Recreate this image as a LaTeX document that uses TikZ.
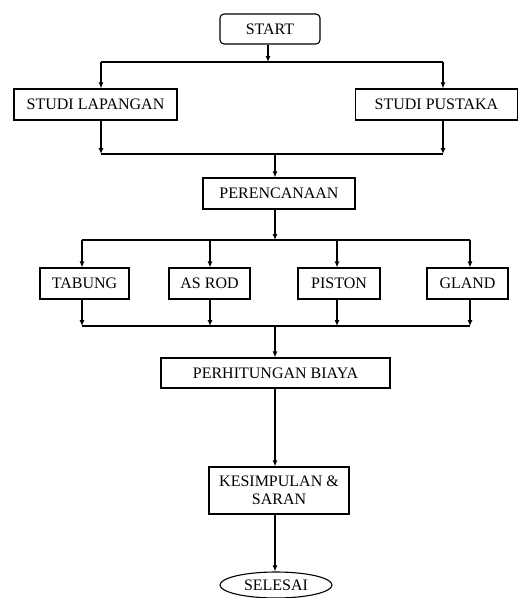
\documentclass[tikz,border=0pt]{standalone}
\usepackage{fontspec}
\setmainfont{Liberation Serif}
\usetikzlibrary{arrows.meta,shapes.geometric}
\begin{document}
\begin{tikzpicture}[x=1pt,y=-1pt,
  boxstyle/.style={draw, line width=1.1pt, inner sep=0pt, align=center,
    font=\fontsize{16}{18}\selectfont, minimum height=31pt},
  arr/.style={-{Latex[length=6pt,width=5pt]}, line width=1.1pt},
  ln/.style={line width=1.1pt}]
\useasboundingbox (0,0) rectangle (519,598);
% nodes
\node[boxstyle, rounded corners=4pt, minimum width=100pt, minimum height=30pt] (start) at (270,29) {START};
\node[boxstyle, minimum width=163pt] (sl) at (95.5,104.5) {STUDI LAPANGAN};
\node[boxstyle, minimum width=162pt] (sp) at (436.5,104.5) {STUDI PUSTAKA};
\node[boxstyle, minimum width=152pt] (per) at (279,193.5) {PERENCANAAN};
\node[boxstyle, minimum width=89pt] (tab) at (84.5,283.5) {TABUNG};
\node[boxstyle, minimum width=81pt] (asr) at (209.5,283.5) {AS ROD};
\node[boxstyle, minimum width=82pt] (pis) at (339,283.5) {PISTON};
\node[boxstyle, minimum width=81pt] (gla) at (467.5,283.5) {GLAND};
\node[boxstyle, minimum width=229pt, minimum height=30pt] (ph) at (275.5,373) {PERHITUNGAN BIAYA};
\node[boxstyle, minimum width=140pt, minimum height=47pt] (kes) at (279,490.5) {KESIMPULAN \&\\SARAN};
\node[boxstyle, ellipse, minimum width=112pt, minimum height=26pt] (sel) at (276,585) {SELESAI};
% junction coordinates
\coordinate (j1) at (268,62);
\coordinate (j1L) at (101,62);
\coordinate (j1R) at (443,62);
\coordinate (j2L) at (101,154);
\coordinate (j2R) at (443,154);
\coordinate (j2) at (275,154);
\coordinate (j3) at (275,240);
\coordinate (j3a) at (82,240);
\coordinate (j3b) at (210,240);
\coordinate (j3c) at (337,240);
\coordinate (j3d) at (470,240);
\coordinate (j4) at (275,326);
\coordinate (j4a) at (82,326);
\coordinate (j4b) at (210,326);
\coordinate (j4c) at (337,326);
\coordinate (j4d) at (470,326);
% connectors
\draw[arr] (j1 |- start.south) -- (j1);
\draw[ln] (j1L) -- (j1R);
\draw[arr] (j1L) -- (j1L |- sl.north);
\draw[arr] (j1R) -- (j1R |- sp.north);
\draw[arr] (j2L |- sl.south) -- (j2L);
\draw[arr] (j2R |- sp.south) -- (j2R);
\draw[ln] (j2L) -- (j2R);
\draw[arr] (j2) -- (j2 |- per.north);
\draw[arr] (j3 |- per.south) -- (j3);
\draw[ln] (j3a) -- (j3d);
\draw[arr] (j3a) -- (j3a |- tab.north);
\draw[arr] (j3b) -- (j3b |- asr.north);
\draw[arr] (j3c) -- (j3c |- pis.north);
\draw[arr] (j3d) -- (j3d |- gla.north);
\draw[arr] (j4a |- tab.south) -- (j4a);
\draw[arr] (j4b |- asr.south) -- (j4b);
\draw[arr] (j4c |- pis.south) -- (j4c);
\draw[arr] (j4d |- gla.south) -- (j4d);
\draw[ln] (j4a) -- (j4d);
\draw[arr] (j4) -- (j4 |- ph.north);
\draw[arr] (j4 |- ph.south) -- (j4 |- kes.north);
\draw[arr] (j4 |- kes.south) -- (j4 |- sel.north);
\end{tikzpicture}
\end{document}
